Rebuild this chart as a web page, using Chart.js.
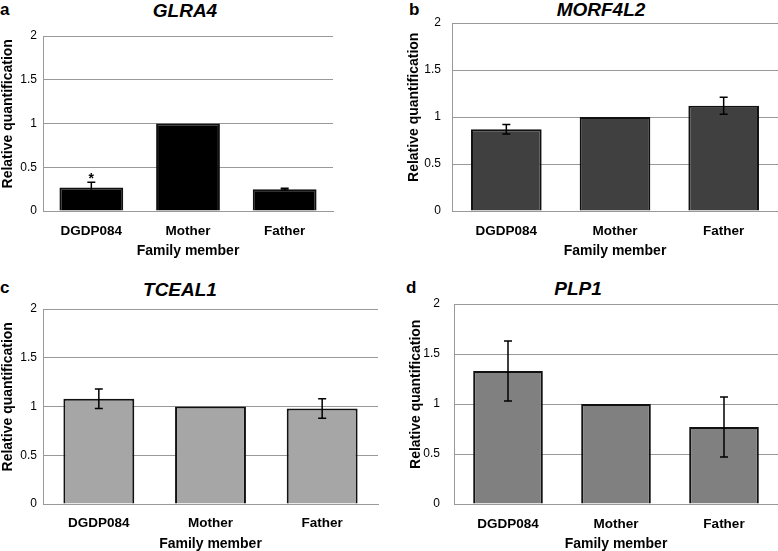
<!DOCTYPE html>
<html>
<head>
<meta charset="utf-8">
<script src="https://cdn.jsdelivr.net/npm/chart.js@4"></script>
<style>
  body { margin: 0; background: #fff; }
  #wrap { position: relative; width: 778px; height: 551px; overflow: hidden; font-family: "Liberation Sans", Arial, sans-serif; }
  canvas { position: absolute; }
  .gene { position: absolute; font-weight: bold; font-style: italic; font-size: 19px; line-height: 1; transform: translate(-50%, -50%); white-space: nowrap; }
  .letter { position: absolute; font-weight: bold; font-size: 17px; line-height: 1; }
</style>
</head>
<body>
<div id="wrap">
  <div class="letter" style="left:0px;top:1px">a</div>
  <div class="gene" style="left:185px;top:10px">GLRA4</div>
  <div class="letter" style="left:409px;top:1px">b</div>
  <div class="gene" style="left:601px;top:9px">MORF4L2</div>
  <div class="letter" style="left:0px;top:279px">c</div>
  <div class="gene" style="left:180px;top:289px">TCEAL1</div>
  <div class="letter" style="left:406px;top:279px">d</div>
  <div class="gene" style="left:578px;top:288px">PLP1</div>

  <canvas id="chartA" width="389" height="275" style="left:0px;top:0px"></canvas>
  <canvas id="chartB" width="389" height="275" style="left:389px;top:0px"></canvas>
  <canvas id="chartC" width="389" height="275" style="left:0px;top:278px"></canvas>
  <canvas id="chartD" width="389" height="275" style="left:389px;top:278px"></canvas>
</div>
<script>
// data
const categories = ['DGDP084', 'Mother', 'Father'];
const yTicks = [0, 0.5, 1, 1.5, 2];

const glra4 = [0.27, 1, 0.25];
const glra4Err = [0.06, 0, 0.01];
const glra4Stars = ['*', '', ''];

const morf4l2 = [0.87, 1, 1.12];
const morf4l2Err = [0.05, 0, 0.09];

const tceal1 = [1.08, 1, 0.98];
const tceal1Err = [0.1, 0, 0.1];

const plp1 = [1.33, 1, 0.77];
const plp1Err = [0.3, 0, 0.3];

const FONT = '"Liberation Sans", Arial, sans-serif';
const GRID = '#999999';
// leading spaces nudge the rotated axis title a bit upwards, like the original
const Y_TITLE = '\u00a0\u00a0\u00a0\u00a0\u00a0Relative quantification';

// error bars + significance marks, drawn from the y scale
const errorBars = {
  id: 'errorBars',
  afterDatasetsDraw(chart) {
    const ctx = chart.ctx;
    const y = chart.scales.y;
    const ds = chart.data.datasets[0];
    const meta = chart.getDatasetMeta(0);
    ctx.save();
    ctx.strokeStyle = '#000';
    ctx.lineWidth = 1.5;
    meta.data.forEach((bar, i) => {
      const e = ds.errors[i];
      const v = ds.data[i];
      let top = y.getPixelForValue(v);
      if (e) {
        top = y.getPixelForValue(v + e);
        const bot = y.getPixelForValue(v - e);
        ctx.beginPath();
        ctx.moveTo(bar.x, top); ctx.lineTo(bar.x, bot);
        ctx.moveTo(bar.x - 4, top); ctx.lineTo(bar.x + 4, top);
        ctx.moveTo(bar.x - 4, bot); ctx.lineTo(bar.x + 4, bot);
        ctx.stroke();
      }
      if (ds.stars && ds.stars[i]) {
        ctx.fillStyle = '#000';
        ctx.font = 'bold 14px ' + FONT;
        ctx.textAlign = 'center';
        ctx.textBaseline = 'alphabetic';
        ctx.fillText(ds.stars[i], bar.x, top + 1);
      }
    });
    ctx.restore();
  }
};

function makeChart(id, values, errors, color, p) {
  const ctx = document.getElementById(id).getContext('2d');
  return new Chart(ctx, {
    type: 'bar',
    data: {
      labels: categories,
      datasets: [{
        data: values,
        errors: errors,
        stars: p.stars,
        backgroundColor: color,
        borderColor: '#111',
        borderWidth: 2,
        categoryPercentage: 1,
        barPercentage: p.barPct
      }]
    },
    options: {
      responsive: false,
      animation: false,
      layout: { padding: { top: p.top, right: p.right, bottom: 0, left: 0 } },
      plugins: { legend: { display: false }, tooltip: { enabled: false } },
      scales: {
        x: {
          grid: { display: false, drawTicks: false },
          border: { display: true, color: GRID, width: 1 },
          ticks: { color: '#000', padding: p.xPad, font: { family: FONT, size: 13.5, weight: 'bold' } },
          title: {
            display: true, text: 'Family member', color: '#000',
            font: { family: FONT, size: 14, weight: 'bold' },
            padding: { top: 0, bottom: p.xTitlePad }
          },
          afterFit: s => { s.height = p.xHeight; }
        },
        y: {
          min: 0, max: 2,
          afterBuildTicks: s => { s.ticks = yTicks.map(v => ({ value: v })); },
          grid: { color: GRID, lineWidth: 1, drawTicks: false },
          border: { display: true, color: GRID, width: 1 },
          ticks: {
            color: '#000', padding: p.yPad, font: { family: FONT, size: 12 },
            callback: v => String(v)
          },
          title: {
            display: true, text: Y_TITLE, color: '#000',
            font: { family: FONT, size: 14, weight: 'bold' },
            padding: { top: p.yTitlePad, bottom: 0 }
          },
          afterFit: s => { s.width = p.yWidth; }
        }
      }
    },
    plugins: [errorBars]
  });
}

makeChart('chartA', glra4, glra4Err, '#000000',
  { top: 36, right: 56, xHeight: 64, xPad: 12, xTitlePad: 15, yWidth: 43, yPad: 6, yTitlePad: 0, barPct: 0.66, stars: glra4Stars });
makeChart('chartB', morf4l2, morf4l2Err, '#404040',
  { top: 23, right: 0, xHeight: 64, xPad: 12, xTitlePad: 15, yWidth: 63, yPad: 11, yTitlePad: 17, barPct: 0.65 });
makeChart('chartC', tceal1, tceal1Err, '#a6a6a6',
  { top: 31, right: 11, xHeight: 49, xPad: 11, xTitlePad: 0, yWidth: 43, yPad: 6, yTitlePad: 0, barPct: 0.635 });
makeChart('chartD', plp1, plp1Err, '#808080',
  { top: 26, right: 0, xHeight: 49, xPad: 12, xTitlePad: 0, yWidth: 65, yPad: 14, yTitlePad: 19, barPct: 0.645 });
</script>
</body>
</html>
